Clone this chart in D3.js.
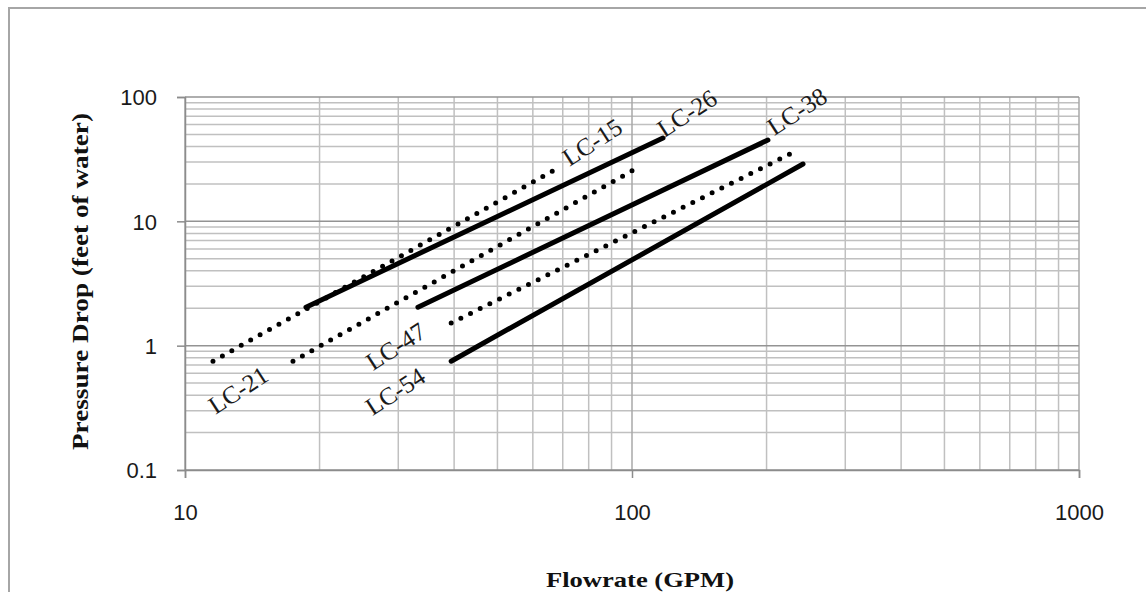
<!DOCTYPE html>
<html>
<head>
<meta charset="utf-8">
<script src="https://cdn.jsdelivr.net/npm/d3@7"></script>
<style>
  html, body { margin: 0; padding: 0; background: #fff; }
  svg { display: block; }
</style>
</head>
<body>
<svg id="chart" width="1146" height="592"></svg>
<script>
// Pressure drop vs. flow rate for each loop-coil model (log-log)
const seriesNames = ["LC-15", "LC-21", "LC-26", "LC-38", "LC-47", "LC-54"];
const seriesStyle = ["dotted", "dotted", "solid", "solid", "dotted", "solid"];
const flowStart = [11.55, 17.44, 18.65, 33.2, 39.4, 39.4];
const flowEnd   = [69.0, 103.7, 117.3, 201.4, 232.8, 241.3];
const dropStart = [0.75, 0.75, 2.04, 2.04, 1.52, 0.75];
const dropEnd   = [27.4, 27.4, 46.8, 45.1, 36.8, 28.9];

const xTickValues = [10, 100, 1000];
const yTickValues = [0.1, 1, 10, 100];
const xTickLabels = ["10", "100", "1000"];
const yTickLabels = ["0.1", "1", "10", "100"];

// Curve labels: text, centre point in data units
const labelText = ["LC-15", "LC-26", "LC-38", "LC-21", "LC-47", "LC-54"];
const labelFlow = [81.4, 132.7, 233.9, 13.14, 29.6, 29.5];
const labelDrop = [43.5, 74.3, 77.1, 0.44, 0.99, 0.43];

const svg = d3.select("#chart");
const W = 1146, H = 592;
const plot = { left: 185, right: 1079, top: 97, bottom: 470 };

const x = d3.scaleLog().domain([10, 1000]).range([plot.left, plot.right]);
const y = d3.scaleLog().domain([0.1, 100]).range([plot.bottom, plot.top]);

// outer chart frame
svg.append("rect")
  .attr("x", 9).attr("y", 8)
  .attr("width", W + 10).attr("height", H + 10)
  .attr("fill", "#fff").attr("stroke", "#a6a6a6").attr("stroke-width", 2);

// minor grid values (2..9 in each decade)
const minorX = [], minorY = [];
[10, 100].forEach(d => { for (let k = 2; k <= 9; k++) minorX.push(d * k); });
[0.1, 1, 10].forEach(d => { for (let k = 2; k <= 9; k++) minorY.push(+(d * k).toPrecision(3)); });

const grid = svg.append("g");
grid.selectAll(".gx").data(minorX).join("line")
  .attr("x1", d => x(d)).attr("x2", d => x(d))
  .attr("y1", plot.top).attr("y2", plot.bottom)
  .attr("stroke", "#c0c0c0").attr("stroke-width", 1.5);
grid.selectAll(".gy").data(minorY).join("line")
  .attr("x1", plot.left).attr("x2", plot.right)
  .attr("y1", d => y(d)).attr("y2", d => y(d))
  .attr("stroke", "#c0c0c0").attr("stroke-width", 1.5);
grid.selectAll(".gX").data(xTickValues).join("line")
  .attr("x1", d => x(d)).attr("x2", d => x(d))
  .attr("y1", plot.top).attr("y2", plot.bottom)
  .attr("stroke", "#a8a8a8").attr("stroke-width", 1.5);
grid.selectAll(".gY").data(yTickValues).join("line")
  .attr("x1", plot.left).attr("x2", plot.right)
  .attr("y1", d => y(d)).attr("y2", d => y(d))
  .attr("stroke", "#939393").attr("stroke-width", 1.5);

// axes with outward major ticks
const xAxis = d3.axisBottom(x).tickValues(xTickValues)
  .tickFormat((d, i) => xTickLabels[i]).tickSize(8).tickPadding(26);
const yAxis = d3.axisLeft(y).tickValues(yTickValues)
  .tickFormat((d, i) => yTickLabels[i]).tickSize(8).tickPadding(20);

const gx = svg.append("g").attr("transform", `translate(0,${plot.bottom})`).call(xAxis);
const gy = svg.append("g").attr("transform", `translate(${plot.left},0)`).call(yAxis);
[gx, gy].forEach(g => {
  g.select(".domain").attr("stroke", "#8c8c8c").attr("stroke-width", 1.5);
  g.selectAll(".tick line").attr("stroke", "#8c8c8c").attr("stroke-width", 1.5);
  g.selectAll(".tick text")
    .attr("font-family", "'Liberation Sans', Arial, sans-serif")
    .attr("font-size", 22).attr("fill", "#1a1a1a");
});
gy.selectAll(".tick text").attr("dy", "0.35em");

// series lines
const rows = seriesNames.map((n, i) => ({
  name: n, style: seriesStyle[i],
  pts: [[flowStart[i], dropStart[i]], [flowEnd[i], dropEnd[i]]]
}));
const line = d3.line().x(d => x(d[0])).y(d => y(d[1]));
svg.append("g").selectAll("path").data(rows).join("path")
  .attr("d", d => line(d.pts))
  .attr("fill", "none")
  .attr("stroke", "#000")
  .attr("stroke-linecap", "round")
  .attr("stroke-width", d => d.style === "solid" ? 5 : 5)
  .attr("stroke-dasharray", d => d.style === "solid" ? null : "0,10.8");

// curve labels
svg.append("g").selectAll("text").data(labelText).join("text")
  .attr("transform", (d, i) => `translate(${x(labelFlow[i])},${y(labelDrop[i])}) rotate(-33)`)
  .attr("text-anchor", "middle")
  .attr("dy", "0.35em")
  .attr("font-family", "'Liberation Serif', 'Times New Roman', serif")
  .attr("font-size", 25)
  .attr("fill", "#1a1a1a")
  .text(d => d);

// axis titles
svg.append("text")
  .attr("x", 640).attr("y", 587)
  .attr("text-anchor", "middle")
  .attr("font-family", "'Liberation Serif', 'Times New Roman', serif")
  .attr("font-weight", "bold").attr("font-size", 21)
  .attr("textLength", 188).attr("lengthAdjust", "spacingAndGlyphs")
  .attr("fill", "#111")
  .text("Flowrate (GPM)");

svg.append("text")
  .attr("transform", `translate(88,${(113 + 450) / 2}) rotate(-90)`)
  .attr("text-anchor", "middle")
  .attr("font-family", "'Liberation Serif', 'Times New Roman', serif")
  .attr("font-weight", "bold").attr("font-size", 24)
  .attr("textLength", 337).attr("lengthAdjust", "spacingAndGlyphs")
  .attr("fill", "#111")
  .text("Pressure Drop  (feet of water)");
</script>
</body>
</html>
